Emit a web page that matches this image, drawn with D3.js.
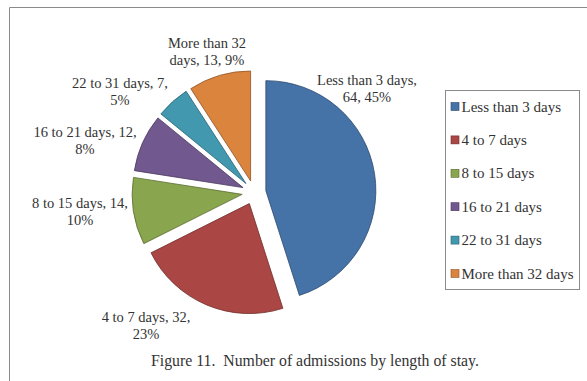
<!DOCTYPE html>
<html>
<head>
<meta charset="utf-8">
<script src="https://cdn.jsdelivr.net/npm/d3@7/dist/d3.min.js"></script>
<style>
  html, body { margin: 0; padding: 0; background: #fff; }
  svg { display: block; }
</style>
</head>
<body>
<svg id="chart" width="587" height="381"></svg>
<script>
// Admissions grouped by length of stay
const categories = ["Less than 3 days", "4 to 7 days", "8 to 15 days", "16 to 21 days", "22 to 31 days", "More than 32 days"];
const admissions = [64, 32, 14, 12, 7, 13];
const percentLabels = ["45%", "23%", "10%", "8%", "5%", "9%"];
const colors = ["#4572A7", "#AA4643", "#89A54E", "#71588F", "#4198AF", "#DB843D"];
const caption = "Figure 11.  Number of admissions by length of stay.";

const FONT = "'Liberation Serif', 'Times New Roman', Times, 'DejaVu Serif', serif";

// Data label text, wrapped onto two lines
const labelLines = categories.map((c, i) => {
  if (i === 0) return [c + ",", admissions[i] + ", " + percentLabels[i]];
  if (i === 5) return ["More than 32", "days, " + admissions[i] + ", " + percentLabels[i]];
  return [c + ", " + admissions[i] + ",", percentLabels[i]];
});

// Layout
const W = 587, H = 381;
const cx = 254, cy = 192.5, radius = 110, explode = 12;
const labelAnchors = [[367, 85], [146, 322], [80, 208], [85, 137], [120, 88], [207, 48]];

const svg = d3.select("#chart")
  .style("font-family", FONT);

// Outer frame (top and left edges visible)
svg.append("path")
  .attr("d", `M9.5,${H} L9.5,7.5 L${W},7.5`)
  .attr("fill", "none")
  .attr("stroke", "#8a8a8a")
  .attr("stroke-width", 1);

const pie = d3.pie().sort(null).value(d => d)(admissions);
const arc = d3.arc().innerRadius(0).outerRadius(radius);

const g = svg.append("g").attr("transform", `translate(${cx},${cy})`);

g.selectAll("path.slice")
  .data(pie)
  .join("path")
  .attr("class", "slice")
  .attr("d", arc)
  .attr("fill", (d, i) => colors[i])
  .attr("stroke", (d, i) => d3.color(colors[i]).darker(1.2))
  .attr("stroke-width", 0.8)
  .attr("transform", d => {
    const a = (d.startAngle + d.endAngle) / 2;
    return `translate(${explode * Math.sin(a)},${-explode * Math.cos(a)})`;
  });

// Data labels
labelLines.forEach((lines, i) => {
  const t = svg.append("text")
    .attr("text-anchor", "middle")
    .attr("font-family", FONT)
    .attr("fill", "#333")
    .attr("font-size", 14.5);
  lines.forEach((ln, k) => {
    t.append("tspan")
      .attr("x", labelAnchors[i][0])
      .attr("y", labelAnchors[i][1] + k * 16.5)
      .text(ln);
  });
});

// Legend
const legX = 445.5, legY = 90.5, legW = 134, legH = 199;
svg.append("rect")
  .attr("x", legX).attr("y", legY)
  .attr("width", legW).attr("height", legH)
  .attr("fill", "#fff")
  .attr("stroke", "#8a8a8a")
  .attr("stroke-width", 1);

const legendRow = d3.scalePoint().domain(categories).range([106.5, 273.5]);
const items = svg.selectAll("g.leg")
  .data(categories)
  .join("g")
  .attr("class", "leg")
  .attr("transform", d => `translate(451,${legendRow(d)})`);

items.append("rect")
  .attr("x", 0).attr("y", -4)
  .attr("width", 8).attr("height", 8)
  .attr("fill", (d, i) => colors[i])
  .attr("stroke", (d, i) => d3.color(colors[i]).darker(1.2))
  .attr("stroke-width", 0.6);

items.append("text")
  .attr("x", 10.5).attr("y", 5)
  .attr("font-family", FONT)
  .attr("fill", "#333")
  .attr("font-size", 15)
  .text(d => d);

// Caption
svg.append("text")
  .attr("x", 315).attr("y", 366)
  .attr("text-anchor", "middle")
  .attr("font-family", FONT)
  .attr("fill", "#333")
  .attr("font-size", 15.8)
  .style("white-space", "pre")
  .text(caption);
</script>
</body>
</html>
